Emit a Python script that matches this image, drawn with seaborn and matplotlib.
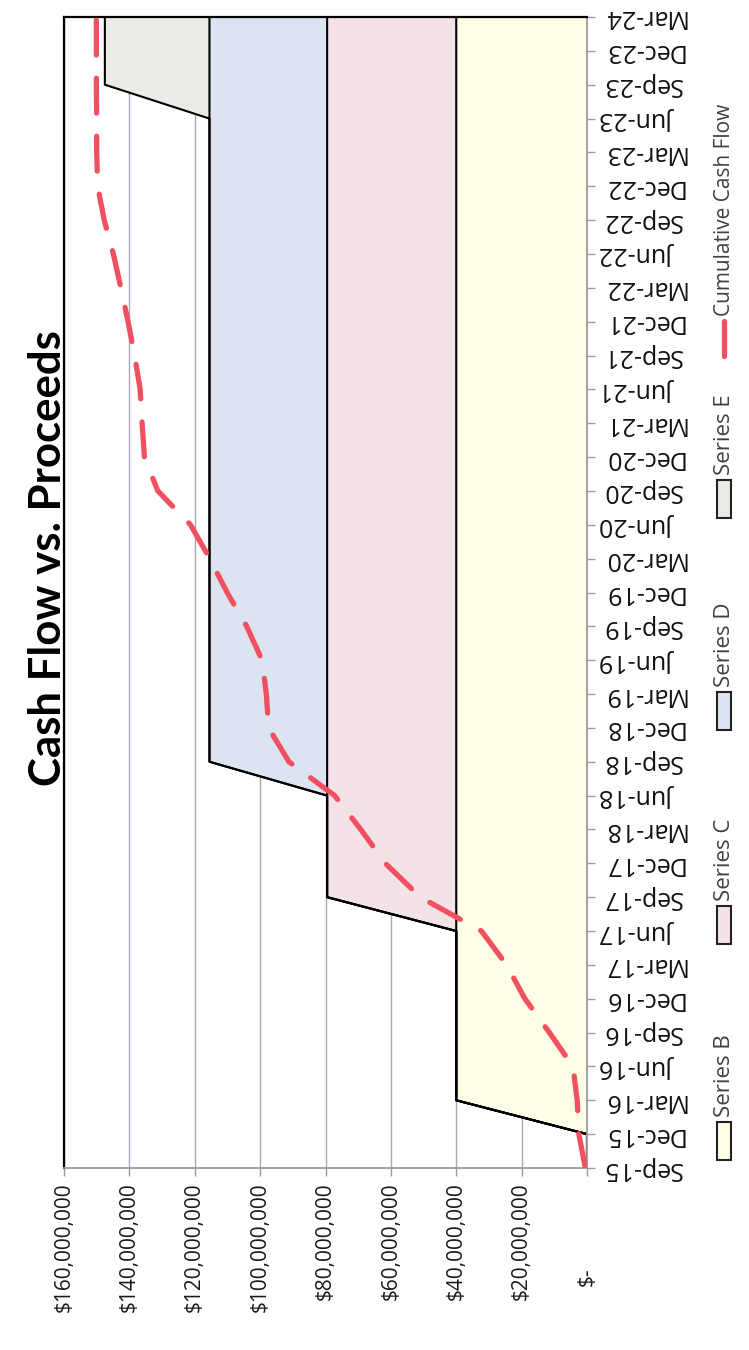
import numpy as np
import pandas as pd
import matplotlib
matplotlib.use("Agg")
import matplotlib.pyplot as plt
import matplotlib.transforms as mtransforms
from matplotlib.patches import Rectangle
from matplotlib.lines import Line2D
import seaborn as sns

# quarter labels along the time axis
quarters = ["Sep-15", "Dec-15", "Mar-16", "Jun-16", "Sep-16", "Dec-16", "Mar-17",
            "Jun-17", "Sep-17", "Dec-17", "Mar-18", "Jun-18", "Sep-18", "Dec-18",
            "Mar-19", "Jun-19", "Sep-19", "Dec-19", "Mar-20", "Jun-20", "Sep-20",
            "Dec-20", "Mar-21", "Jun-21", "Sep-21", "Dec-21", "Mar-22", "Jun-22",
            "Sep-22", "Dec-22", "Mar-23", "Jun-23", "Sep-23", "Dec-23", "Mar-24"]

# proceeds per series, $ millions (stacked)
series_b = [0, 0, 40, 40, 40, 40, 40, 40, 40, 40, 40, 40,
            40, 40, 40, 40, 40, 40, 40, 40, 40, 40, 40, 40,
            40, 40, 40, 40, 40, 40, 40, 40, 40, 40, 40]
series_c = [0, 0, 0, 0, 0, 0, 0, 0, 39.5, 39.5, 39.5, 39.5,
            39.5, 39.5, 39.5, 39.5, 39.5, 39.5, 39.5, 39.5, 39.5, 39.5, 39.5, 39.5,
            39.5, 39.5, 39.5, 39.5, 39.5, 39.5, 39.5, 39.5, 39.5, 39.5, 39.5]
series_d = [0, 0, 0, 0, 0, 0, 0, 0, 0, 0, 0, 0,
            36, 36, 36, 36, 36, 36, 36, 36, 36, 36, 36, 36,
            36, 36, 36, 36, 36, 36, 36, 36, 36, 36, 36]
series_e = [0, 0, 0, 0, 0, 0, 0, 0, 0, 0, 0, 0,
            0, 0, 0, 0, 0, 0, 0, 0, 0, 0, 0, 0,
            0, 0, 0, 0, 0, 0, 0, 0, 32, 32, 32]

# cumulative cash flow, $ millions
cum_cash_flow = [0.5, 2.5, 3.0, 4.3, 11.5, 19.0, 24.6, 32.3, 51.0, 61.7, 69.2, 77.2,
                 91.2, 97.4, 98.1, 99.4, 104.1, 110.1, 115.4, 121.3, 131.3, 135.4,
                 136.1, 136.7, 138.4, 140.4, 142.6, 144.9, 147.7, 149.7, 150.0,
                 150.0, 150.1, 150.1, 150.1]

value_ticks = [0, 20e6, 40e6, 60e6, 80e6, 100e6, 120e6, 140e6, 160e6]
value_labels = ["$-", "$20,000,000", "$40,000,000", "$60,000,000", "$80,000,000",
                "$100,000,000", "$120,000,000", "$140,000,000", "$160,000,000"]

series_names = ["Series B", "Series C", "Series D", "Series E"]
fill_colors = ["#fefde6", "#f3e3e6", "#dbe4f0", "#ebebe6"]
red = "#f0505f"

sns.set_theme(style="white")
plt.rcParams["font.family"] = ["Open Sans", "DejaVu Sans"]

W, H = 749, 1350
fig = plt.figure(figsize=(W / 100, H / 100), dpi=100)
ax = fig.add_axes([64 / W, 1 - 1168 / H, (587 - 64) / W, (1168 - 17) / H])

df = pd.DataFrame({
    "quarter": quarters,
    "Series B": series_b,
    "Series C": series_c,
    "Series D": series_d,
    "Series E": series_e,
    "Cumulative Cash Flow": cum_cash_flow,
})
df["pos"] = np.arange(len(df))
stack = df[series_names].cumsum(axis=1) * 1e6
df["cum"] = df["Cumulative Cash Flow"] * 1e6

# stacked areas, each outlined along its top edge
prev = np.zeros(len(df))
for name, color in zip(series_names, fill_colors):
    top = stack[name].to_numpy()
    ax.fill_betweenx(df["pos"], prev, top, color=color, lw=0, zorder=1)
    ax.plot(top, df["pos"], color="black", lw=1.5, zorder=2)
    prev = top

sns.lineplot(data=df, x="cum", y="pos", orient="y", ax=ax, color=red, lw=3.8,
             linestyle=(0, (6.6, 4.4)), dash_capstyle="round", zorder=3)

ax.set_xlim(160e6, 0)
ax.set_ylim(0, len(quarters) - 1)
ax.set_xlabel("")
ax.set_ylabel("")

ax.set_xticks(value_ticks)
ax.set_xticklabels(value_labels, rotation=90, fontsize=15, color="#1a1a1a")
ax.yaxis.tick_right()
ax.set_yticks(df["pos"])
ax.set_yticklabels(quarters, rotation=180, va="center", ha="left",
                   fontsize=18, color="#111111")

axis_grey = "#9e98a6"
ax.tick_params(axis="x", bottom=True, direction="out", length=6, width=1,
               color=axis_grey, pad=4)
ax.tick_params(axis="y", right=True, left=False, direction="out", length=6,
               width=1, color=axis_grey, pad=5)
ax.grid(axis="x", color="#aaa4b4", lw=1)
ax.grid(axis="y", visible=False)
ax.set_axisbelow(True)

for side in ["left", "top"]:
    ax.spines[side].set_color("black")
    ax.spines[side].set_linewidth(1.6)
for side in ["bottom", "right"]:
    ax.spines[side].set_color(axis_grey)
    ax.spines[side].set_linewidth(1.3)

# the zero label sits lower, like an accounting format
zero_lbl = ax.get_xticklabels()[0]
zero_lbl.set_transform(zero_lbl.get_transform() +
                       mtransforms.ScaledTranslation(0, -0.85, fig.dpi_scale_trans))

fig.text(48 / W, 1 - 558 / H, "Cash Flow vs. Proceeds", rotation=90,
         ha="center", va="center", fontsize=31.5, fontweight="bold",
         family=["Lato", "DejaVu Sans"], color="black")

# legend, drawn sideways like the rest of the chart
leg_x = 724
patch_spans = {"Series B": (1122, 1160), "Series C": (906, 944),
               "Series D": (692, 730), "Series E": (480, 518)}
for name, color in zip(series_names, fill_colors):
    y0, y1 = patch_spans[name]
    fig.patches.append(Rectangle(((leg_x - 7) / W, 1 - y1 / H), 14 / W, (y1 - y0) / H,
                                 transform=fig.transFigure, facecolor=color,
                                 edgecolor="#222222", lw=1.5))
    fig.text(leg_x / W, 1 - (y0 - 5) / H, name, rotation=90, rotation_mode="anchor",
             ha="left", va="center", fontsize=16, color="#404040")

fig.lines.append(Line2D([leg_x / W, leg_x / W], [1 - 356 / H, 1 - 321 / H],
                        transform=fig.transFigure, color=red, lw=3.8,
                        solid_capstyle="round"))
fig.text(leg_x / W, 1 - 316 / H, "Cumulative Cash Flow", rotation=90,
         rotation_mode="anchor", ha="left", va="center", fontsize=15, color="#404040")

fig.savefig("out.png", dpi=100)
